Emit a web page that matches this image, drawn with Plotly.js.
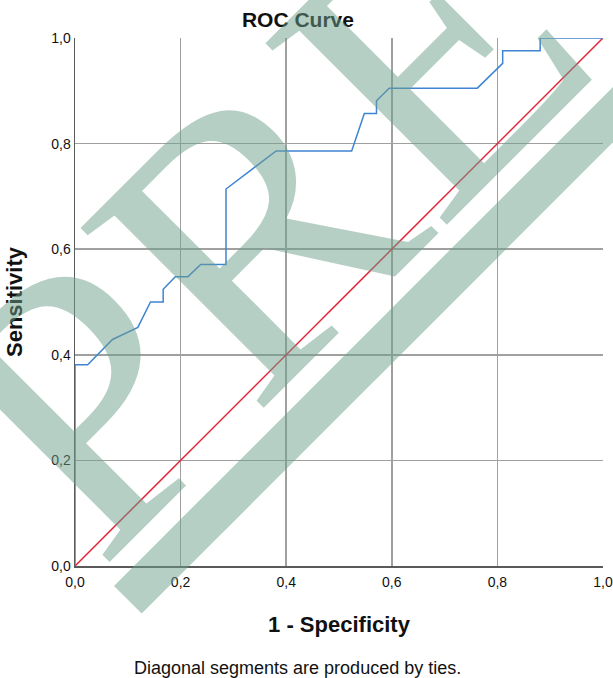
<!DOCTYPE html>
<html>
<head>
<meta charset="utf-8">
<script src="https://cdn.plot.ly/plotly-3.0.1.min.js"></script>
<style>html,body{margin:0;padding:0;background:#fff;}#chart{width:613px;height:678px;}</style>
</head>
<body>
<div id="chart"></div>
<script>
// ROC curve points (1 - Specificity, Sensitivity)
const rocX = [0, 0, 0.024, 0.071, 0.119, 0.143, 0.167, 0.167, 0.190, 0.214, 0.238, 0.286, 0.286, 0.381, 0.524, 0.548, 0.571, 0.571, 0.595, 0.762, 0.810, 0.810, 0.881, 0.881, 1];
const rocY = [0, 0.381, 0.381, 0.429, 0.452, 0.500, 0.500, 0.524, 0.548, 0.548, 0.571, 0.571, 0.714, 0.786, 0.786, 0.857, 0.857, 0.881, 0.905, 0.905, 0.952, 0.976, 0.976, 1, 1];
// Reference line
const refX = [0, 1];
const refY = [0, 1];
const tickVals = [0, 0.2, 0.4, 0.6, 0.8, 1];
const tickText = ["0,0", "0,2", "0,4", "0,6", "0,8", "1,0"];

const traces = [
  {x: refX, y: refY, type: 'scatter', mode: 'lines', line: {color: 'rgb(225,35,55)', width: 1.5}, hoverinfo: 'skip'},
  {x: rocX, y: rocY, type: 'scatter', mode: 'lines', line: {color: 'rgb(62,132,210)', width: 1.5}, hoverinfo: 'skip'}
];

const FONT = 'Liberation Sans, Arial, sans-serif';
const axisCommon = {
  range: [0, 1], tickvals: tickVals, ticktext: tickText,
  showgrid: true, gridcolor: 'rgb(160,160,160)', gridwidth: 1.5,
  zeroline: false, showline: true, linecolor: 'rgb(90,90,90)', linewidth: 1.5,
  tickfont: {family: FONT, size: 14, color: '#111'},
  fixedrange: true
};

const layout = {
  width: 613, height: 678,
  margin: {l: 75, r: 10, t: 38, b: 112},
  paper_bgcolor: '#fff', plot_bgcolor: '#fff',
  showlegend: false,
  title: {text: '<b>ROC Curve</b>', x: 0.486, xref: 'container', xanchor: 'center', y: 0.9705, yref: 'container', yanchor: 'middle',
          font: {family: FONT, size: 21, color: '#111'}},
  xaxis: Object.assign({}, axisCommon, {
    ticks: 'outside', ticklen: 3, tickcolor: 'rgba(0,0,0,0)',
    title: {text: '<b>1 - Specificity</b>', standoff: 27, font: {family: FONT, size: 22, color: '#111'}}
  }),
  yaxis: Object.assign({}, axisCommon, {
    ticks: '',
    title: {text: '<b>Sensitivity</b>', standoff: 22, font: {family: FONT, size: 22, color: '#111'}}
  }),
  annotations: [
    {text: 'Diagonal segments are produced by ties.', xref: 'paper', yref: 'paper', x: 0.422, y: -0.193,
     xanchor: 'center', yanchor: 'middle', showarrow: false,
     font: {family: FONT, size: 18, color: '#111'}},
    {text: '<u>PRE</u>', xref: 'paper', yref: 'paper', x: 0.352, y: 0.648, xanchor: 'center', yanchor: 'middle', showarrow: false,
     textangle: -45, font: {family: 'Liberation Serif, Times New Roman, serif', size: 392, color: 'rgba(110,160,140,0.5)'}}
  ]
};

Plotly.newPlot('chart', traces, layout, {staticPlot: true, displayModeBar: false});
</script>
</body>
</html>
